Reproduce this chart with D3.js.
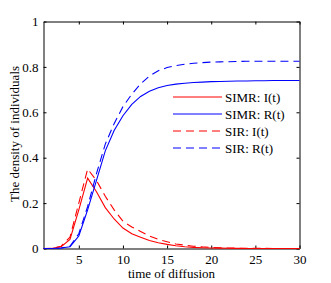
<!DOCTYPE html>
<html>
<head>
<meta charset="utf-8">
<script src="https://cdn.jsdelivr.net/npm/d3@7"></script>
<style>
  body { margin: 0; background: #fff; }
  text { font-family: "Liberation Serif", "Times New Roman", serif; }
</style>
</head>
<body>
<div id="chart"></div>
<script>
// time steps
var time = d3.range(1, 31);

// SIMR model
var simrI = [0, 0.001, 0.008, 0.04, 0.17, 0.31, 0.25, 0.18, 0.13, 0.09,
             0.065, 0.05, 0.035, 0.025, 0.018, 0.012, 0.008, 0.005, 0.003, 0.002,
             0.0015, 0.001, 0.0006, 0.0003, 0.0002, 0.0001, 0, 0, 0, 0];
var simrR = [0, 0, 0.002, 0.008, 0.055, 0.17, 0.3, 0.43, 0.52, 0.585,
             0.635, 0.67, 0.693, 0.708, 0.718, 0.724, 0.728, 0.731, 0.733, 0.735,
             0.736, 0.737, 0.738, 0.738, 0.739, 0.739, 0.74, 0.74, 0.74, 0.74];

// SIR model
var sirI = [0, 0.001, 0.01, 0.05, 0.2, 0.35, 0.3, 0.23, 0.17, 0.12,
            0.095, 0.075, 0.055, 0.04, 0.03, 0.02, 0.015, 0.01, 0.007, 0.005,
            0.003, 0.002, 0.0015, 0.001, 0.0008, 0.0005, 0.0003, 0.0002, 0.0001, 0];
var sirR = [0, 0, 0.002, 0.01, 0.065, 0.185, 0.33, 0.46, 0.55, 0.625,
            0.68, 0.725, 0.76, 0.783, 0.797, 0.806, 0.812, 0.816, 0.819, 0.821,
            0.822, 0.823, 0.824, 0.825, 0.825, 0.825, 0.825, 0.825, 0.825, 0.825];

var xTicks = [5, 10, 15, 20, 25, 30];
var yTicks = [0, 0.2, 0.4, 0.6, 0.8, 1];

var series = [
    { name: "SIMR: I(t)", values: simrI, color: "#ff0000", dash: null },
    { name: "SIMR: R(t)", values: simrR, color: "#0000ff", dash: null },
    { name: "SIR: I(t)", values: sirI, color: "#ff0000", dash: "8,5" },
    { name: "SIR: R(t)", values: sirR, color: "#0000ff", dash: "8,5" }
];

var w = 331, h = 283;
var pl = 43.5, pr = 299.5, pt = 21.5, pb = 248.5;

var svg = d3.select("#chart").append("svg")
    .attr("width", w)
    .attr("height", h);

var x = d3.scaleLinear().domain([1, 30]).range([pl, pr]);
var y = d3.scaleLinear().domain([0, 1]).range([pb, pt]);

// Axes, ticks inward
var fmt = function(d) { return d3.format("")(d); };

svg.append("g")
    .attr("transform", "translate(0," + pb + ")")
    .call(d3.axisBottom(x).tickValues(xTicks).tickSizeInner(-3).tickSizeOuter(0).tickPadding(6).tickFormat(fmt));
svg.append("g")
    .attr("transform", "translate(0," + pt + ")")
    .call(d3.axisTop(x).tickValues(xTicks).tickSizeInner(-3).tickSizeOuter(0).tickFormat(""));
svg.append("g")
    .attr("transform", "translate(" + pl + ",0)")
    .call(d3.axisLeft(y).tickValues(yTicks).tickSizeInner(-3).tickSizeOuter(0).tickPadding(5).tickFormat(fmt));
svg.append("g")
    .attr("transform", "translate(" + pr + ",0)")
    .call(d3.axisRight(y).tickValues(yTicks).tickSizeInner(-3).tickSizeOuter(0).tickFormat(""));

svg.selectAll(".domain").attr("stroke", "#000");
svg.selectAll(".tick line").attr("stroke", "#000");
svg.selectAll(".tick text")
    .style("font-size", "13px")
    .attr("fill", "#000");

// Lines
var line = d3.line()
    .x(function(d, i) { return x(time[i]); })
    .y(function(d) { return y(d); });

svg.selectAll("path.series")
    .data(series)
    .enter()
    .append("path")
    .attr("class", "series")
    .attr("d", function(d) { return line(d.values); })
    .attr("fill", "none")
    .attr("stroke", function(d) { return d.color; })
    .attr("stroke-width", 1.1)
    .attr("stroke-dasharray", function(d) { return d.dash; });

// Legend
var legend = svg.append("g");
series.forEach(function(s, i) {
    var ly = 97 + i * 17;
    legend.append("line")
        .attr("x1", 173).attr("x2", 222)
        .attr("y1", ly).attr("y2", ly)
        .attr("stroke", s.color)
        .attr("stroke-width", 1.1)
        .attr("stroke-dasharray", s.dash);
    legend.append("text")
        .attr("x", 225).attr("y", ly + 4.5)
        .style("font-size", "13px")
        .text(s.name);
});

// Axis titles
svg.append("text")
    .attr("x", (pl + pr) / 2)
    .attr("y", 278)
    .attr("text-anchor", "middle")
    .style("font-size", "13px")
    .text("time of diffusion");

svg.append("text")
    .attr("transform", "translate(19," + 134 + ") rotate(-90)")
    .attr("text-anchor", "middle")
    .style("font-size", "13px")
    .text("The density of individuals");
</script>
</body>
</html>
